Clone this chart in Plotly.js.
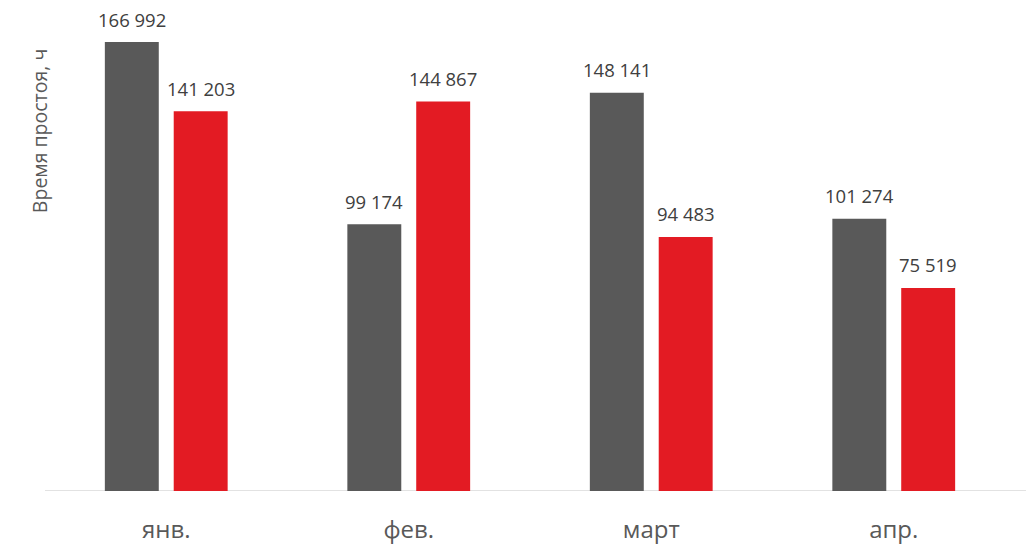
<!DOCTYPE html>
<html>
<head>
<meta charset="utf-8">
<script src="https://cdn.plot.ly/plotly-3.0.1.min.js"></script>
<style>html,body{margin:0;padding:0;background:#fff;}#chart{width:1026px;height:550px;}</style>
</head>
<body>
<div id="chart"></div>
<script>
const categories = ['янв.', 'фев.', 'март', 'апр.'];
const series1 = [166992, 99174, 148141, 101274];
const series2 = [141203, 144867, 94483, 75519];
const seriesColors = ['#595959', '#e31b23'];

function fmt(v) { return String(v).replace(/\B(?=(\d{3})+(?!\d))/g, ' '); }

const FONT = 'Open Sans, sans-serif';
const traces = [
  { type: 'bar', x: categories, y: series1, marker: { color: seriesColors[0] }, hoverinfo: 'skip' },
  { type: 'bar', x: categories, y: series2, marker: { color: seriesColors[1] }, hoverinfo: 'skip' }
];

const annotations = [];
[series1, series2].forEach(function (s, si) {
  s.forEach(function (v, i) {
    annotations.push({
      x: categories[i], y: v, xref: 'x', yref: 'y',
      text: fmt(v), showarrow: false,
      xshift: si === 0 ? -34.5 : 34.5, yshift: 23, yanchor: 'middle',
      font: { family: FONT, size: 18.5, color: '#404040' }
    });
  });
});
annotations.push({
  xref: 'paper', yref: 'paper', x: -0.0062, y: 0.764,
  text: 'Время простоя, ч', textangle: -90, showarrow: false,
  xanchor: 'center', yanchor: 'middle',
  font: { family: FONT, size: 19.5, color: '#595959' }
});

const layout = {
  width: 1026, height: 550,
  margin: { l: 45, r: 11, t: 20, b: 59 },
  paper_bgcolor: '#ffffff', plot_bgcolor: '#ffffff',
  barmode: 'group', bargap: 0.432, bargroupgap: 0.217,
  showlegend: false,
  xaxis: {
    type: 'category', showline: false, showgrid: false, zeroline: false,
    ticks: '', ticklabelstandoff: 22,
    tickfont: { family: FONT, size: 24, color: '#595959' }
  },
  yaxis: {
    range: [0, 175174], showticklabels: false, showgrid: false,
    zeroline: false, showline: false, ticks: ''
  },
  shapes: [{
    type: 'line', xref: 'paper', yref: 'y', x0: 0, x1: 1.0115, y0: 0, y1: 0,
    line: { color: '#d9d9d9', width: 1.5 }, layer: 'below'
  }],
  annotations: annotations
};

Plotly.newPlot('chart', traces, layout, { displayModeBar: false, staticPlot: true });
</script>
</body>
</html>
